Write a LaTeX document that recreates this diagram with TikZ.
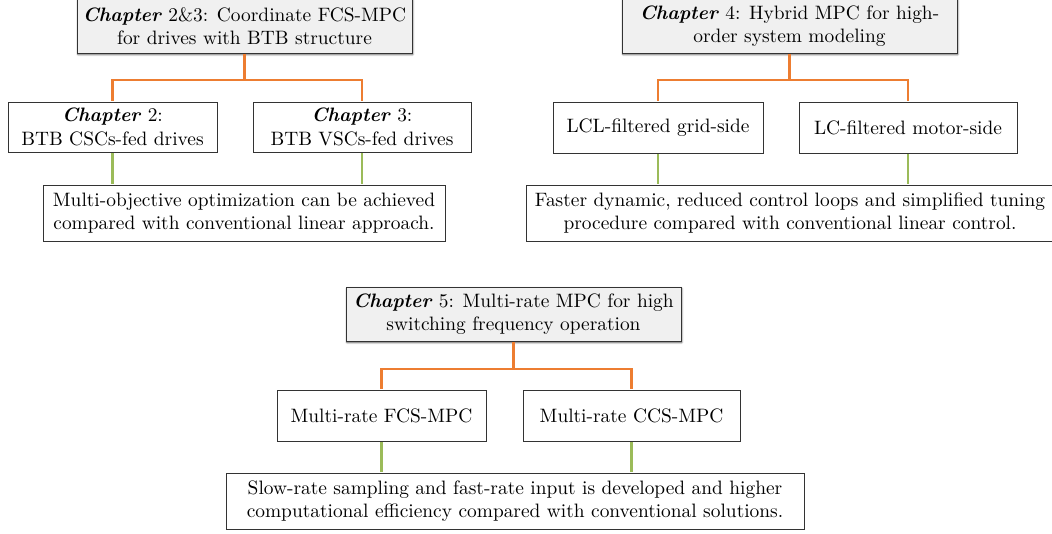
\documentclass[tikz,border=0pt]{standalone}
\usetikzlibrary{shadows.blur}
\definecolor{lineorange}{HTML}{ED7D31}
\definecolor{linegreen}{HTML}{9BBB59}
\definecolor{boxfill}{HTML}{F0F0F0}
\definecolor{boxline}{HTML}{333333}
\tikzset{
  box/.style={draw=boxline, line width=0.9pt, fill=white, align=center, inner sep=0pt,
    scale=1.94, font=\fontsize{10}{12}\selectfont},
  sz/.style 2 args={minimum width=#1pt/1.94, minimum height=#2pt/1.94},
  chapbox/.style={box, fill=boxfill,
    blur shadow={shadow xshift=0.8pt, shadow yshift=-1.5pt, shadow blur radius=1.8pt, shadow opacity=70}},
  orangeline/.style={draw=lineorange, line width=2.6pt},
  greenline/.style={draw=linegreen, line width=2.2pt},
}
\newcommand\bichap[1]{\textbf{\textit{#1}}}
\begin{document}
\begin{tikzpicture}[x=1pt, y=-1pt]
\useasboundingbox (0,0) rectangle (1052,533);
% left group
\node[chapbox, sz={335}{54}] (A) at (244.5,26) {\bichap{Chapter} 2\&3: Coordinate FCS-MPC\\for drives with BTB structure};
\node[box, sz={209}{50}] (B1) at (112.5,127) {\bichap{Chapter} 2:\\BTB CSCs-fed drives};
\node[box, sz={218}{50}] (B2) at (362,127) {\bichap{Chapter} 3:\\BTB VSCs-fed drives};
\node[box, sz={402}{56}] (C) at (244,213) {Multi-objective optimization can be achieved\\compared with conventional linear approach.};
% right group
\node[chapbox, sz={335}{54}] (D) at (789.5,26) {\bichap{Chapter} 4: Hybrid MPC for high-\\order system modeling};
\node[box, sz={210}{51}] (E1) at (658,127.5) {LCL-filtered grid-side};
\node[box, sz={218}{51}] (E2) at (908,127.5) {LC-filtered motor-side};
\node[box, sz={528}{56}] (F) at (790,213) {Faster dynamic, reduced control loops and simplified tuning\\procedure compared with conventional linear control.};
% bottom group
\node[chapbox, sz={335}{54}] (G) at (513.5,314) {\bichap{Chapter} 5: Multi-rate MPC for high\\switching frequency operation};
\node[box, sz={209}{51}] (H1) at (381.5,415.5) {Multi-rate FCS-MPC};
\node[box, sz={217}{51}] (H2) at (631.5,415.5) {Multi-rate CCS-MPC};
\node[box, sz={578}{56}] (I) at (515,501) {Slow-rate sampling and fast-rate input is developed and higher\\computational efficiency compared with conventional solutions.};
% orange connectors
\draw[orangeline] (A.south) -- ++(0,26) -| (B1.north);
\draw[orangeline] (A.south) -- ++(0,26) -| (B2.north);
\draw[orangeline] (D.south) -- ++(0,26) -| (E1.north);
\draw[orangeline] (D.south) -- ++(0,26) -| (E2.north);
\draw[orangeline] (G.south) -- ++(0,27) -| (H1.north);
\draw[orangeline] (G.south) -- ++(0,27) -| (H2.north);
% green connectors
\draw[greenline] (B1.south) -- (B1.south |- C.north);
\draw[greenline] (B2.south) -- (B2.south |- C.north);
\draw[greenline] (E1.south) -- (E1.south |- F.north);
\draw[greenline] (E2.south) -- (E2.south |- F.north);
\draw[greenline] (H1.south) -- (H1.south |- I.north);
\draw[greenline] (H2.south) -- (H2.south |- I.north);
\end{tikzpicture}
\end{document}
